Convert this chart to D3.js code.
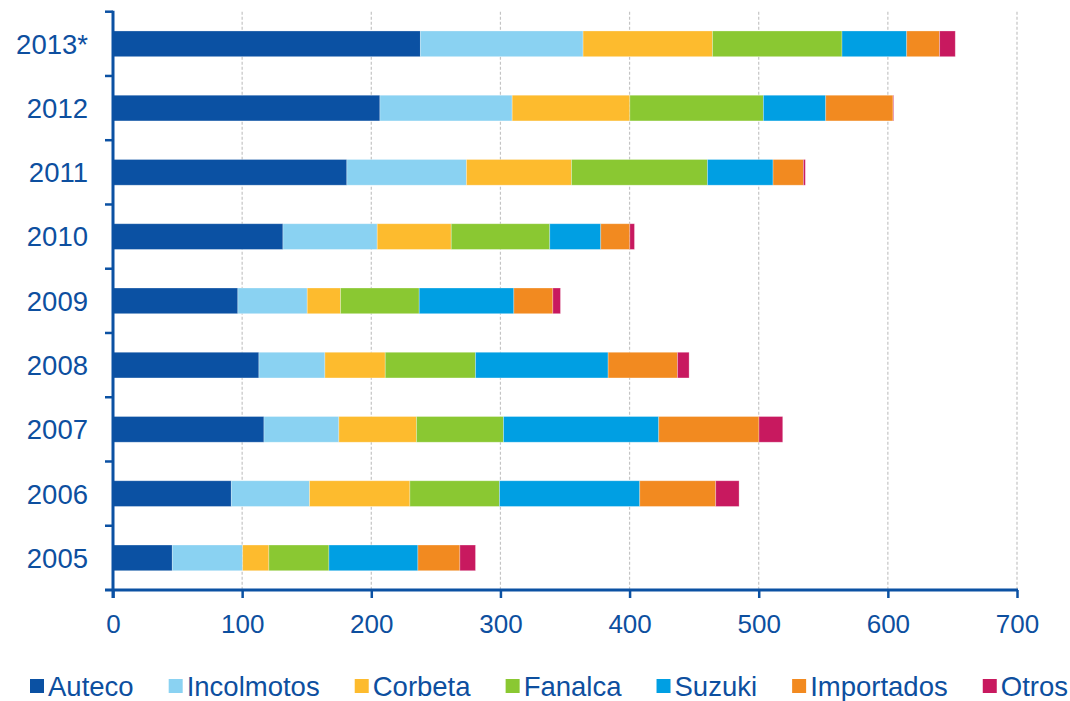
<!DOCTYPE html>
<html>
<head>
<meta charset="utf-8">
<script src="https://cdn.jsdelivr.net/npm/d3@7"></script>
<style>
  body { margin: 0; background: #fff; }
  text { font-family: "Liberation Sans", Arial, sans-serif; fill: #0d4f9f; }
</style>
</head>
<body>
<svg width="1070" height="701"></svg>
<script>
const years = ["2013*", "2012", "2011", "2010", "2009", "2008", "2007", "2006", "2005"];
const brands = ["Auteco", "Incolmotos", "Corbeta", "Fanalca", "Suzuki", "Importados", "Otros"];
const colors = ["#0b51a3", "#8ad2f2", "#fdbb2e", "#8ac832", "#009fe3", "#f28a20", "#c8195f"];

// values per brand, same order as years
const auteco     = [238, 206.7, 181.1, 131.6, 96.7, 113.0, 116.9, 91.6, 45.9];
const incolmotos = [126, 102.4, 92.6, 73.0, 53.7, 51.1, 58.0, 60.6, 54.5];
const corbeta    = [100.2, 91.1, 81.3, 57.3, 25.8, 46.7, 60.1, 77.7, 20.3];
const fanalca    = [100.3, 103.4, 105.3, 76.3, 60.9, 69.9, 67.4, 69.4, 46.5];
const suzuki     = [50.1, 48.3, 50.8, 39.5, 73.3, 102.7, 120.2, 108.6, 68.9];
const importados = [25.5, 52.1, 23.5, 22.5, 30.2, 53.7, 77.6, 58.8, 32.5];
const otros      = [12.1, 0.5, 1.5, 3.6, 5.9, 9.0, 18.4, 18.1, 12.1];
const xTicks = [0, 100, 200, 300, 400, 500, 600, 700];

const series = [auteco, incolmotos, corbeta, fanalca, suzuki, importados, otros];
const rows = years.map((y, i) => {
  const r = { year: y };
  brands.forEach((b, j) => r[b] = series[j][i]);
  return r;
});

const svg = d3.select("svg");
const plotLeft = 113, plotRight = 1017, plotTop = 11.7, plotBottom = 590;
const axisColor = "#0b51a3";

const x = d3.scaleLinear().domain([0, 700]).range([plotLeft, plotRight]);
const y = d3.scaleBand().domain(years).range([plotTop, plotBottom])
  .paddingInner(0.6).paddingOuter(0.3);

// dashed grid
svg.append("g")
  .selectAll("line")
  .data(xTicks.slice(1))
  .join("line")
  .attr("x1", d => x(d)).attr("x2", d => x(d))
  .attr("y1", plotTop).attr("y2", plotBottom)
  .attr("stroke", "#c4c4c4")
  .attr("stroke-width", 1.2)
  .attr("stroke-dasharray", "3,2");

// stacked bars
const stack = d3.stack().keys(brands)(rows);
svg.append("g")
  .selectAll("g")
  .data(stack)
  .join("g")
  .attr("fill", (d, i) => colors[i])
  .selectAll("rect")
  .data(d => d)
  .join("rect")
  .attr("x", d => x(d[0]))
  .attr("y", d => y(d.data.year))
  .attr("width", d => x(d[1]) - x(d[0]))
  .attr("height", y.bandwidth())
  .attr("stroke", "#ffffff")
  .attr("stroke-opacity", 0.35)
  .attr("stroke-width", 0.8);

// bottom axis
const xAxis = svg.append("g")
  .attr("transform", `translate(0, ${plotBottom})`)
  .call(d3.axisBottom(x).tickValues(xTicks).tickSize(8).tickPadding(12).tickSizeOuter(0));
xAxis.select(".domain").remove();
xAxis.append("line")
  .attr("x1", 105).attr("x2", plotRight + 1)
  .attr("stroke", axisColor).attr("stroke-width", 3);
xAxis.selectAll(".tick line").attr("stroke", axisColor).attr("stroke-width", 2.5);
xAxis.selectAll(".tick text")
  .style("font-size", "26px")
  .attr("dy", "0.88em")
  .attr("fill", "#0d4f9f");

// left axis
const step = y.step();
const gap = (step - y.bandwidth()) / 2;
const yAxis = svg.append("g");
yAxis.append("line")
  .attr("x1", plotLeft).attr("x2", plotLeft)
  .attr("y1", plotTop - 1).attr("y2", plotBottom + 8)
  .attr("stroke", axisColor).attr("stroke-width", 3);
yAxis.selectAll(".ytick")
  .data(years)
  .join("line")
  .attr("class", "ytick")
  .attr("x1", 105).attr("x2", plotLeft)
  .attr("y1", d => y(d) - gap).attr("y2", d => y(d) - gap)
  .attr("stroke", axisColor).attr("stroke-width", 2.5);
yAxis.selectAll(".ylabel")
  .data(years)
  .join("text")
  .attr("class", "ylabel")
  .attr("x", 88)
  .attr("y", d => y(d) + y.bandwidth() / 2)
  .attr("dy", "0.36em")
  .attr("text-anchor", "end")
  .style("font-size", "27.5px")
  .text(d => d);

// legend
const legend = svg.append("g");
const items = legend.selectAll("g")
  .data(brands)
  .join("g");
items.append("rect")
  .attr("width", 14).attr("height", 14)
  .attr("y", 679)
  .attr("fill", (d, i) => colors[i]);
items.append("text")
  .attr("x", 18)
  .attr("y", 696)
  .style("font-size", "27.5px")
  .text(d => d);
const widths = [];
items.each(function () { widths.push(18 + d3.select(this).select("text").node().getComputedTextLength()); });
const totalW = d3.sum(widths);
const lgGap = (1068 - 30 - totalW) / (brands.length - 1);
let cx = 30;
items.attr("transform", (d, i) => {
  const t = `translate(${cx}, 0)`;
  cx += widths[i] + lgGap;
  return t;
});
</script>
</body>
</html>
